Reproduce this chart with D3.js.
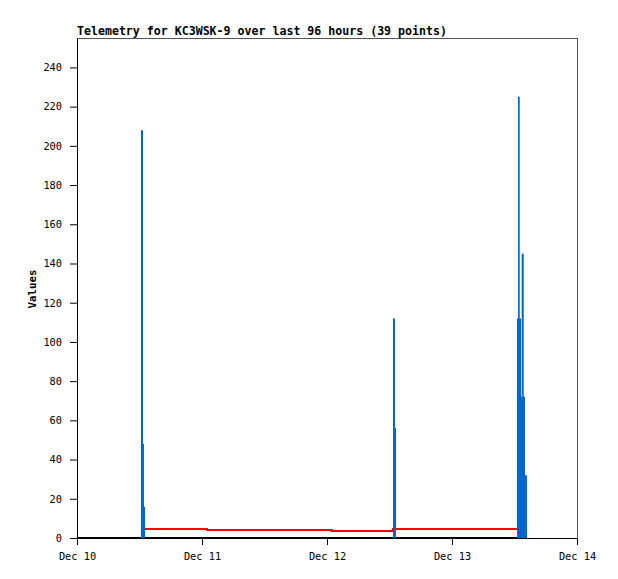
<!DOCTYPE html>
<html>
<head>
<meta charset="utf-8">
<script src="https://cdn.jsdelivr.net/npm/d3@7"></script>
<style>
  html, body { margin: 0; padding: 0; background: #fff; }
  svg { display: block; }
</style>
</head>
<body>
<svg id="chart" width="618" height="579"></svg>
<script>
// ---- data (hours since Dec 10 00:00) ----
const titleText = "Telemetry for KC3WSK-9 over last 96 hours (39 points)";
const yLabel = "Values";
const xTickHours = [0, 24, 48, 72, 96];
const xTickLabels = ["Dec 10", "Dec 11", "Dec 12", "Dec 13", "Dec 14"];
const yTicks = [0, 20, 40, 60, 80, 100, 120, 140, 160, 180, 200, 220, 240];
const yMax = 255;

const blueTimes  = [12.29, 12.67, 12.86, 13.06, 60.67, 61.06, 61.25, 84.48, 84.67, 85.0, 85.25, 85.38, 85.77, 86.02, 86.4];
const blueValues = [208,   48,    16,    0,     112,   56,    0,     112,   225,   112,  72,    145,   72,    32,    0];

const redTimes  = [12.29, 24.96, 48.9, 60.67, 86.4];
const redValues = [4.6,   4.1,   3.6,  4.6,   4.6];

const blackTimes  = [0, 86.4];
const blackValues = [0, 0];

// ---- layout ----
const svg = d3.select("#chart");
const L = 77, R = 577, T = 38, B = 538;
const x = d3.scaleLinear().domain([0, 96]).range([L, R]);
const y = d3.scaleLinear().domain([0, yMax]).range([B, T]);
const mono = "'DejaVu Sans Mono', monospace";

// frame
svg.append("rect").attr("x", L + 0.5).attr("y", T + 0.5)
  .attr("width", R - L).attr("height", B - T)
  .attr("fill", "#fff").attr("stroke", "#555").attr("stroke-width", 1);

// series
const black = blackTimes.map((t, i) => [t, blackValues[i]]);
svg.append("path").datum(black)
  .attr("d", d3.line().x(d => x(d[0])).y(d => y(d[1])))
  .attr("fill", "none").attr("stroke", "#000").attr("stroke-width", 2);

const red = redTimes.map((t, i) => [t, redValues[i]]);
svg.append("path").datum(red)
  .attr("d", d3.line().x(d => x(d[0])).y(d => y(d[1])).curve(d3.curveStepAfter))
  .attr("fill", "none").attr("stroke", "#ff0000").attr("stroke-width", 2);

const blue = blueTimes.map((t, i) => [t, blueValues[i]]);
svg.append("path").datum(blue)
  .attr("d", d3.area().x(d => x(d[0])).y0(y(0)).y1(d => y(d[1])).curve(d3.curveStepAfter))
  .attr("fill", "#0066cc").attr("stroke", "none");

// axes
const yAxis = svg.append("g").attr("transform", `translate(${L},0)`)
  .call(d3.axisLeft(y).tickValues(yTicks).tickSize(7).tickPadding(8).tickSizeOuter(0));
const xAxis = svg.append("g").attr("transform", `translate(0,${B})`)
  .call(d3.axisBottom(x).tickValues(xTickHours).tickFormat((d, i) => xTickLabels[i])
    .tickSize(7).tickPadding(8).tickSizeOuter(0));
[yAxis, xAxis].forEach(g => {
  g.selectAll("path.domain").attr("stroke", "#000").attr("stroke-width", 1);
  g.selectAll(".tick line").attr("stroke", "#000");
  g.selectAll("text").attr("font-family", mono).attr("font-size", "10.3px").attr("fill", "#000");
});

// title
svg.append("text").attr("x", L).attr("y", 35)
  .attr("font-family", mono).attr("font-size", "11.6px").attr("font-weight", "bold")
  .attr("fill", "#000").text(titleText);

// y label
svg.append("text")
  .attr("transform", `translate(36,${289}) rotate(-90)`)
  .attr("text-anchor", "middle")
  .attr("font-family", mono).attr("font-size", "10.8px").attr("font-weight", "bold")
  .attr("fill", "#000").text(yLabel);
</script>
</body>
</html>
